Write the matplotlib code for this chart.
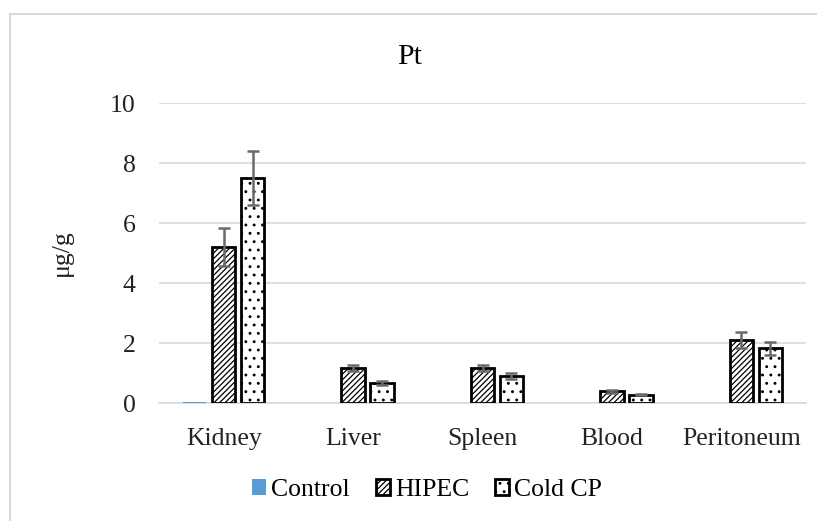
import matplotlib
matplotlib.use("Agg")
import matplotlib.pyplot as plt
import numpy as np
from matplotlib.lines import Line2D
from matplotlib.font_manager import FontProperties

categories = ["Kidney", "Liver", "Spleen", "Blood", "Peritoneum"]
series_names = ["Control", "HIPEC", "Cold CP"]
control = [0.03, 0.0, 0.0, 0.0, 0.0]
control_err = [0.0, 0.0, 0.0, 0.0, 0.0]
hipec = [5.2, 1.16, 1.16, 0.39, 2.1]
hipec_err = [0.62, 0.1, 0.1, 0.04, 0.26]
coldcp = [7.5, 0.66, 0.89, 0.28, 1.83]
coldcp_err = [0.9, 0.07, 0.1, 0.02, 0.22]
yticks = [0, 2, 4, 6, 8, 10]

FAM = 'Liberation Serif'
plt.rcParams['font.family'] = 'Liberation Serif'
plt.rcParams['hatch.linewidth'] = 0.9

fig = plt.figure(figsize=(8.17, 5.21), dpi=100)
ax = fig.add_axes([159/817, 1-403/521, (806-159)/817, 300/521])

x = np.arange(len(categories))
w = 0.18
off = 0.224
ekw = dict(ecolor='#6a6a6a', elinewidth=1.8, capsize=4, capthick=1.8)

ax.bar(x - off, control, w, color='#5B9BD5', edgecolor='none', zorder=3,
       label=series_names[0])
ax.bar(x, hipec, w, yerr=hipec_err, facecolor='white', edgecolor='black',
       linewidth=2, hatch='//////', zorder=3, error_kw=ekw, label=series_names[1])
ax.bar(x + off, coldcp, w, yerr=coldcp_err, facecolor='white', edgecolor='black',
       linewidth=2, hatch='..', zorder=3, error_kw=ekw, label=series_names[2])

ax.set_xlim(-0.5, len(categories) - 0.5)
ax.set_ylim(0, 10)
ax.set_yticks(yticks)
ax.set_yticklabels([str(t) for t in yticks], fontsize=18.5, fontfamily=FAM, color='#222222')
ax.set_xticks(x)
ax.set_xticklabels(categories, fontsize=18.5, fontfamily=FAM, color='#222222')
ax.tick_params(axis='x', length=0, pad=18)
ax.tick_params(axis='y', length=0, pad=17)
ax.yaxis.grid(True, color='#d9d9d9', linewidth=1.2, zorder=0)
for s in ['top', 'right', 'left']:
    ax.spines[s].set_visible(False)
ax.spines['bottom'].set_color('#d9d9d9')
ax.spines['bottom'].set_linewidth(1.2)

fig.text(410/817, 1-57/521, "Pt", fontsize=21.5, ha='center', va='center', fontfamily=FAM)
fig.text(62/817, 1-253/521, "μg/g", fontsize=18.5, rotation=90, ha='center', va='center',
         fontfamily=FAM, color='#222222')

leg = ax.legend(loc='center', bbox_to_anchor=(427/817, 1-490/521), bbox_transform=fig.transFigure,
                ncol=3, frameon=False, prop=FontProperties(family=FAM, size=18.5),
                handlelength=0.55, handleheight=0.55, handletextpad=0.2, columnspacing=1.0)

# outer chart border (top and left visible)
fig.add_artist(Line2D([10/817, 1], [1-14/521, 1-14/521], color='#d9d9d9', lw=1.5,
                      transform=fig.transFigure))
fig.add_artist(Line2D([10/817, 10/817], [0, 1-14/521], color='#d9d9d9', lw=1.5,
                      transform=fig.transFigure))

fig.savefig("out.png", dpi=100, facecolor='white')
